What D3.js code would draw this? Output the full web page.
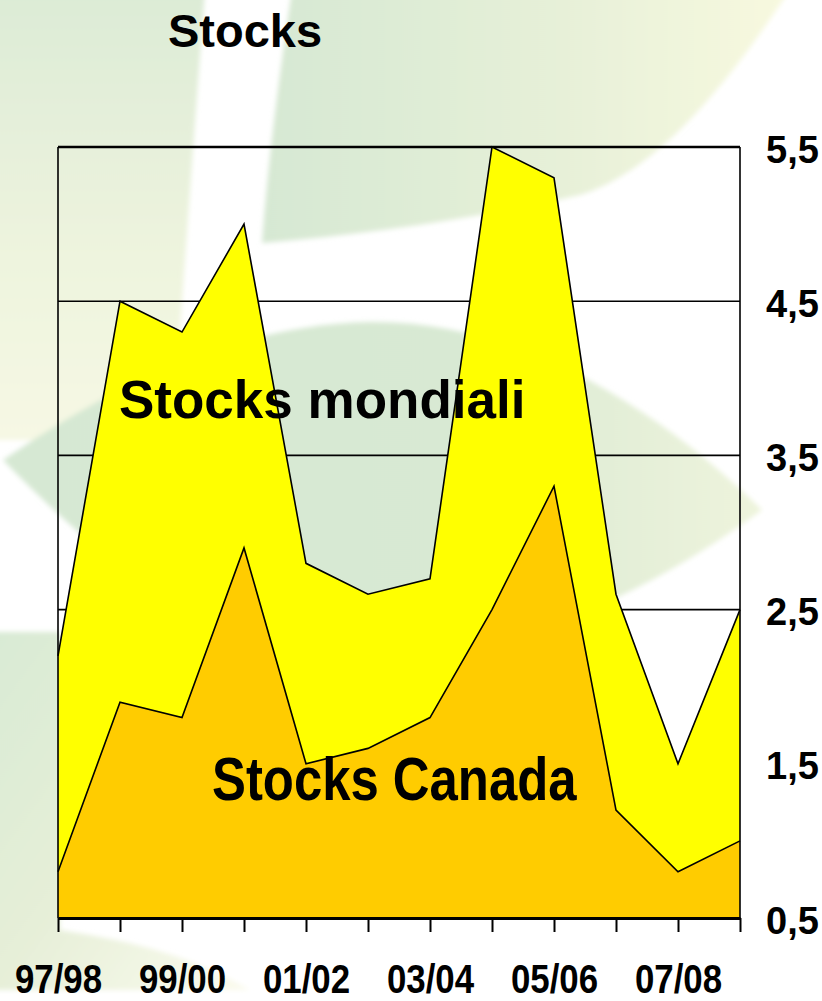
<!DOCTYPE html>
<html>
<head>
<meta charset="utf-8">
<script src="https://cdn.jsdelivr.net/npm/d3@7"></script>
<style>
  html, body { margin: 0; padding: 0; background: #fff; }
  svg { display: block; }
  .lbl { font-family: "Liberation Sans", Arial, sans-serif; font-weight: bold; fill: #000; }
</style>
</head>
<body>
<svg id="chart" width="822" height="1001"></svg>
<script>
// campaigns 97/98 .. 08/09
var seasons = ["97/98", "98/99", "99/00", "00/01", "01/02", "02/03",
               "03/04", "04/05", "05/06", "06/07", "07/08", "08/09"];
var stocksMondiali = [2.2, 4.5, 4.3, 5.0, 2.8, 2.6, 2.7, 5.5, 5.3, 2.6, 1.5, 2.5];
var stocksCanada   = [0.8, 1.9, 1.8, 2.9, 1.5, 1.6, 1.8, 2.5, 3.3, 1.2, 0.8, 1.0];
var yTicks = [0.5, 1.5, 2.5, 3.5, 4.5, 5.5];
var xLabelled = ["97/98", "99/00", "01/02", "03/04", "05/06", "07/08"];

var svg = d3.select("#chart"),
    pLeft = 58, pRight = 740, pTop = 147, pBottom = 918;

// squeeze a bold text horizontally (no narrow font installed)
function narrow(sel, k) {
  sel.each(function() {
    var len = this.getComputedTextLength();
    d3.select(this).attr("textLength", len * k).attr("lengthAdjust", "spacingAndGlyphs");
  });
}

// --- decorative background (pale leaves) ---
var defs = svg.append("defs");
function grad(id, x1, y1, x2, y2, stops) {
  var g = defs.append("linearGradient").attr("id", id)
    .attr("x1", x1).attr("y1", y1).attr("x2", x2).attr("y2", y2);
  stops.forEach(function(s) {
    g.append("stop").attr("offset", s[0]).attr("stop-color", s[1]);
  });
}
grad("gTL", 0, 0, 0, 1, [[0, "#dcebd6"], [0.6, "#eef4de"], [1, "#f6f8e4"]]);
grad("gTR", 0, 0, 1, 0, [[0, "#d6e8d3"], [0.55, "#e6f0d8"], [1, "#f8f9df"]]);
grad("gMid", 0, 0, 1, 0, [[0, "#d6e8d3"], [0.6, "#d8e9d3"], [1, "#eef4dc"]]);
grad("gBL", 0, 0, 1, 1, [[0, "#d8eAd4"], [0.5, "#e6efd8"], [1, "#fbfbee"]]);
defs.append("filter").attr("id", "soft")
  .append("feGaussianBlur").attr("stdDeviation", 2.5);

var bg = svg.append("g").attr("filter", "url(#soft)");
bg.append("path").attr("fill", "url(#gTL)")
  .attr("d", "M-10,-10 L205,-10 C195,120 185,260 175,400 L60,440 L-10,440 Z");
bg.append("path").attr("fill", "url(#gTR)")
  .attr("d", "M292,-10 L790,-10 C730,80 660,170 580,195 C470,220 360,235 262,243 C268,160 280,70 292,-10 Z");
bg.append("path").attr("fill", "url(#gMid)")
  .attr("d", "M3,460 C120,380 240,325 370,322 C520,320 660,410 762,510 C640,600 500,660 360,660 C220,660 100,560 3,460 Z");
bg.append("path").attr("fill", "url(#gBL)")
  .attr("d", "M-10,632 L60,632 L60,930 C120,940 180,950 250,990 L-10,990 Z");

var x = d3.scalePoint().domain(seasons).range([pLeft, pRight]);
var y = d3.scaleLinear().domain([0.5, 5.5]).range([pBottom, pTop]);

// horizontal gridlines
svg.append("g").selectAll("line")
  .data(yTicks.slice(1))
  .join("line")
    .attr("x1", pLeft).attr("x2", pRight)
    .attr("y1", function(d) { return y(d); })
    .attr("y2", function(d) { return y(d); })
    .attr("stroke", "#000")
    .attr("stroke-width", function(d) { return d === 5.5 ? 2.5 : 1.6; });

var world = seasons.map(function(s, i) { return { s: s, v: stocksMondiali[i] }; });
var canada = seasons.map(function(s, i) { return { s: s, v: stocksCanada[i] }; });

var area = d3.area()
  .x(function(d) { return x(d.s); })
  .y0(y(0.5))
  .y1(function(d) { return y(d.v); });
var line = d3.line()
  .x(function(d) { return x(d.s); })
  .y(function(d) { return y(d.v); });

svg.append("path").datum(world).attr("d", area).attr("fill", "#ffff00");
svg.append("path").datum(world).attr("d", line)
  .attr("fill", "none").attr("stroke", "#000").attr("stroke-width", 1.6);
svg.append("path").datum(canada).attr("d", area).attr("fill", "#ffcc00");
svg.append("path").datum(canada).attr("d", line)
  .attr("fill", "none").attr("stroke", "#000").attr("stroke-width", 1.6);

// frame sides
svg.append("line").attr("x1", pLeft).attr("x2", pLeft).attr("y1", pTop).attr("y2", pBottom)
  .attr("stroke", "#000").attr("stroke-width", 1.6);
svg.append("line").attr("x1", pRight).attr("x2", pRight).attr("y1", pTop).attr("y2", pBottom)
  .attr("stroke", "#000").attr("stroke-width", 1.6);

// x axis
var xAxis = svg.append("g")
  .attr("transform", "translate(0," + pBottom + ")")
  .call(d3.axisBottom(x).tickSize(14).tickSizeOuter(0)
    .tickFormat(function(d) { return xLabelled.indexOf(d) >= 0 ? d : ""; }));
xAxis.select(".domain").attr("stroke-width", 3);
xAxis.selectAll(".tick line").attr("stroke-width", 2);
xAxis.selectAll(".tick text")
  .attr("class", "lbl")
  .attr("y", 75).attr("dy", 0)
  .style("font-size", "41px")
  .call(narrow, 0.85);

// y axis on the right
var yAxis = svg.append("g")
  .attr("transform", "translate(" + pRight + ",0)")
  .call(d3.axisRight(y).tickValues(yTicks).tickSize(0).tickPadding(26)
    .tickFormat(function(d) { return d3.format(".1f")(d).replace(".", ","); }));
yAxis.select(".domain").remove();
yAxis.selectAll(".tick text")
  .attr("class", "lbl")
  .attr("dy", 15)
  .style("font-size", "38px");

// titles and series labels
svg.append("text").attr("class", "lbl").attr("x", 168).attr("y", 47)
  .style("font-size", "47px").text("Stocks");
svg.append("text").attr("class", "lbl").attr("x", 119).attr("y", 418)
  .style("font-size", "53px").text("Stocks mondiali");
svg.append("text").attr("class", "lbl").attr("x", 212).attr("y", 800)
  .style("font-size", "62px").text("Stocks Canada")
  .call(narrow, 0.82);
</script>
</body>
</html>
